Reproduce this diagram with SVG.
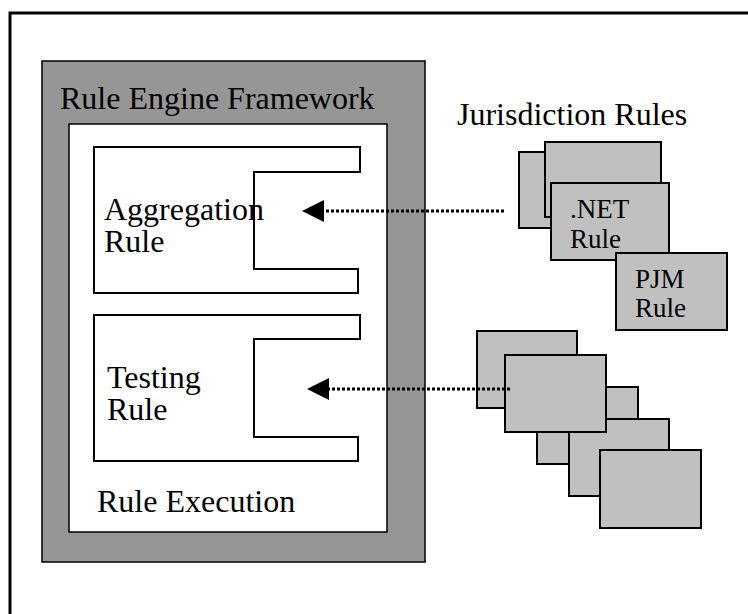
<svg xmlns="http://www.w3.org/2000/svg" width="748" height="614" viewBox="0 0 748 614">
<defs>
<style>
.t{font-family:"Liberation Serif","Times New Roman",serif;font-size:32px;fill:#000}
.s{font-family:"Liberation Serif","Times New Roman",serif;font-size:27px;fill:#000}
.box{fill:#c0c0c0;stroke:#000;stroke-width:2}
.br{fill:#fff;stroke:#000;stroke-width:2}
.dot{fill:none;stroke:#000;stroke-width:3;stroke-dasharray:3 2}
</style>
<marker id="ah" viewBox="0 0 22 22" refX="0" refY="11" markerWidth="22" markerHeight="22" markerUnits="userSpaceOnUse" orient="auto">
<path d="M22,11 L0,0 L0,22 Z" fill="#000"/>
</marker>
</defs>
<rect width="748" height="614" fill="#fff"/>
<path d="M10,616 L10,13 L750,13" fill="none" stroke="#000" stroke-width="3"/>
<g id="framework">
<rect x="42" y="61" width="383" height="501" fill="#969696" stroke="#000" stroke-width="1.5"/>
<text class="t" x="60" y="109">Rule Engine Framework</text>
</g>
<g id="rule-execution">
<rect x="69" y="124" width="318" height="408" fill="#fff" stroke="#000" stroke-width="1.5"/>
<text class="t" x="97" y="512">Rule Execution</text>
</g>
<g id="aggregation-rule">
<path class="br" d="M360,147 L94,147 L94,293 L358,293 L358,269 L254,269 L254,172 L360,172 Z"/>
<text class="t" x="104" y="220">Aggregation</text>
<text class="t" x="104" y="252">Rule</text>
</g>
<g id="testing-rule">
<path class="br" d="M360,315 L94,315 L94,461 L358,461 L358,437 L254,437 L254,339 L360,339 Z"/>
<text class="t" x="107" y="388">Testing</text>
<text class="t" x="107" y="420">Rule</text>
</g>
<g id="jurisdiction-rules">
<text class="t" x="457" y="125">Jurisdiction Rules</text>
<rect class="box" x="519" y="152" width="116" height="76"/>
<rect class="box" x="545" y="142" width="116" height="75"/>
<rect class="box" x="551" y="183" width="118" height="77"/>
<text class="s" x="570" y="218">.NET</text>
<text class="s" x="570" y="248">Rule</text>
<rect class="box" x="616" y="253" width="111" height="77"/>
<text class="s" x="635" y="288">PJM</text>
<text class="s" x="635" y="317">Rule</text>
</g>
<g id="other-rules">
<rect class="box" x="477" y="331" width="100" height="77"/>
<rect class="box" x="537" y="387" width="101" height="77"/>
<rect class="box" x="569" y="419" width="100" height="77"/>
<rect class="box" x="600" y="450" width="101" height="78"/>
<rect class="box" x="505" y="355" width="101" height="77"/>
</g>
<g id="connectors">
<line class="dot" x1="504" y1="211" x2="324" y2="211" marker-end="url(#ah)"/>
<line class="dot" x1="510" y1="389" x2="329" y2="389" marker-end="url(#ah)"/>
</g>
</svg>
